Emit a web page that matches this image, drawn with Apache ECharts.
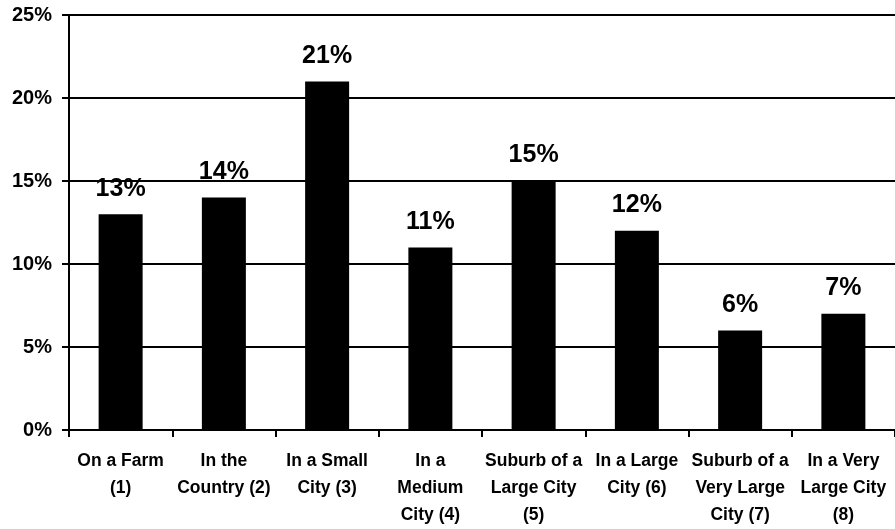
<!DOCTYPE html>
<html>
<head>
<meta charset="utf-8">
<script src="https://cdn.jsdelivr.net/npm/echarts@6/dist/echarts.min.js"></script>
<style>
  html, body { margin: 0; padding: 0; background: #fff; }
  #chart { width: 895px; height: 529px; }
</style>
</head>
<body>
<div id="chart"></div>
<script>
// Where people live: share of respondents by type of place
const categories = [
  'On a Farm\n(1)',
  'In the\nCountry (2)',
  'In a Small\nCity (3)',
  'In a\nMedium\nCity (4)',
  'Suburb of a\nLarge City\n(5)',
  'In a Large\nCity (6)',
  'Suburb of a\nVery Large\nCity (7)',
  'In a Very\nLarge City\n(8)'
];
const shares = [13, 14, 21, 11, 15, 12, 6, 7];
const yTicks = { min: 0, max: 25, step: 5 };

const FONT = '"Liberation Sans", Arial, sans-serif';

const chart = echarts.init(document.getElementById('chart'), null, { renderer: 'canvas' });
chart.setOption({
  animation: false,
  backgroundColor: '#ffffff',
  grid: { left: 69, right: -8, top: 15, bottom: 99, containLabel: false },
  xAxis: {
    type: 'category',
    data: categories,
    axisLine: { lineStyle: { color: '#000', width: 2 } },
    axisTick: { show: true, alignWithLabel: false, length: 7, lineStyle: { color: '#000', width: 2 } },
    axisLabel: {
      interval: 0,
      margin: 18,
      color: '#000',
      fontFamily: FONT,
      fontWeight: 'bold',
      fontSize: 17.5,
      lineHeight: 27
    },
    splitLine: { show: false }
  },
  yAxis: {
    type: 'value',
    min: yTicks.min,
    max: yTicks.max,
    interval: yTicks.step,
    axisLine: { show: true, lineStyle: { color: '#000', width: 2 } },
    axisTick: { show: true, length: 7, lineStyle: { color: '#000', width: 2 } },
    axisLabel: {
      formatter: '{value}%',
      margin: 17,
      color: '#000',
      fontFamily: FONT,
      fontWeight: 'bold',
      fontSize: 20
    },
    splitLine: { show: true, lineStyle: { color: '#000', width: 2 } }
  },
  series: [{
    type: 'bar',
    data: shares,
    barWidth: 44,
    itemStyle: { color: '#000' },
    label: {
      show: true,
      position: 'top',
      distance: 13,
      formatter: '{c}%',
      color: '#000',
      fontFamily: FONT,
      fontWeight: 'bold',
      fontSize: 25
    }
  }]
});
</script>
</body>
</html>
